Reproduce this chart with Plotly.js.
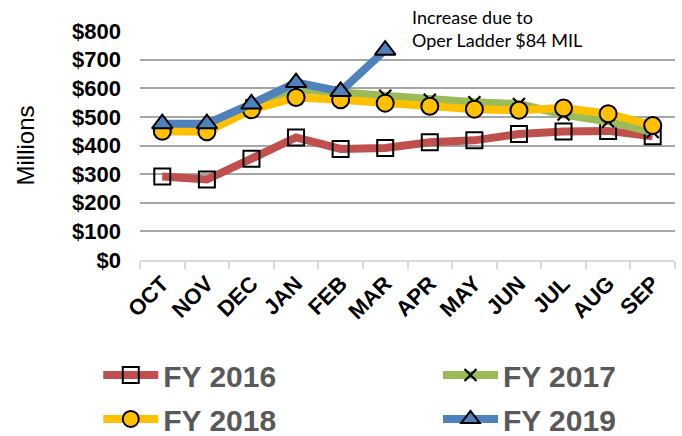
<!DOCTYPE html>
<html><head><meta charset="utf-8">
<script src="https://cdn.plot.ly/plotly-3.0.1.min.js"></script>
<style>html,body{margin:0;padding:0;background:#fff}#chart{width:682px;height:436px}</style>
</head><body><div id="chart"></div>
<script>
const months = ["OCT","NOV","DEC","JAN","FEB","MAR","APR","MAY","JUN","JUL","AUG","SEP"];
const fy2016 = [292, 281, 354, 428, 388, 391, 411, 418, 440, 449, 451, 432];
const fy2017 = [462, 462, 540, 597, 585, 574, 560, 551, 545, 508, 484, 447];
const fy2018 = [450, 448, 525, 568, 560, 548, 537, 527, 523, 531, 511, 470];
const fy2019 = [476, 476, 545, 620, 589, 733];
const seriesNames = ["FY 2016","FY 2017","FY 2018","FY 2019"];
const annotationText = "Increase due to<br>Oper Ladder $84 MIL";

const traces = [
  {x: months, y: fy2016, name: seriesNames[0], mode: "lines+markers", legend: "legend",
   line: {color: "#C0504D", width: 8},
   marker: {symbol: "square", size: 16, color: "rgba(255,255,255,0)", line: {color: "#000", width: 2}}},
  {x: months, y: fy2017, name: seriesNames[1], mode: "lines+markers", legend: "legend2",
   line: {color: "#9BBB59", width: 8},
   marker: {symbol: "x-thin", size: 12, color: "#000", line: {color: "#000", width: 2.2}}},
  {x: months, y: fy2018, name: seriesNames[2], mode: "lines+markers", legend: "legend3",
   line: {color: "#FFC000", width: 8},
   marker: {symbol: "circle", size: 17, color: "#FFC000", line: {color: "#000", width: 2}}},
  {x: months.slice(0, fy2019.length), y: fy2019, name: seriesNames[3], mode: "lines+markers", legend: "legend4",
   line: {color: "#4F81BD", width: 8},
   marker: {symbol: "triangle-up", size: 18, color: "#4F81BD", line: {color: "#000", width: 2}}}
];

function leg(x, y) {
  return {x: x, y: y, xanchor: "left", yanchor: "middle", orientation: "h",
    itemwidth: 55, bgcolor: "rgba(0,0,0,0)",
    font: {family: "Liberation Sans, Arial, sans-serif", size: 30, weight: "bold", color: "#595959"}};
}

const layout = {
  width: 682, height: 436,
  margin: {l: 140, r: 7, t: 31, b: 176, autoexpand: false},
  paper_bgcolor: "#fff", plot_bgcolor: "#fff",
  showlegend: true,
  font: {family: "Liberation Sans, Arial, sans-serif", color: "#000"},
  xaxis: {
    type: "category", tickangle: -45,
    tickfont: {size: 22, weight: "bold", color: "#000"},
    showgrid: false, showline: true, linecolor: "#d9d9d9", linewidth: 2,
    ticks: "outside", tickson: "boundaries", ticklen: 7, tickcolor: "#d9d9d9", tickwidth: 2,
    range: [-0.5, 11.5]
  },
  yaxis: {
    range: [0, 800], dtick: 100, tickprefix: "$",
    tickfont: {size: 22, weight: "bold", color: "#000"},
    showgrid: true, gridcolor: "#a6a6a6", gridwidth: 2,
    zeroline: false, showline: false, ticklabelstandoff: 18,
    title: {text: "Millions", font: {size: 24, color: "#000"}, standoff: 30}
  },
  legend: leg(-0.078, -0.502),
  legend2: leg(0.557, -0.502),
  legend3: leg(-0.078, -0.694),
  legend4: leg(0.557, -0.694),
  annotations: [{
    xref: "paper", yref: "paper", x: 0.505, y: 1.12, xanchor: "left", yanchor: "top",
    text: annotationText, showarrow: false, align: "left",
    font: {family: "Lato, sans-serif", size: 18, color: "#000"}
  }]
};

Plotly.newPlot("chart", traces, layout, {displayModeBar: false, staticPlot: true});
</script></body></html>
